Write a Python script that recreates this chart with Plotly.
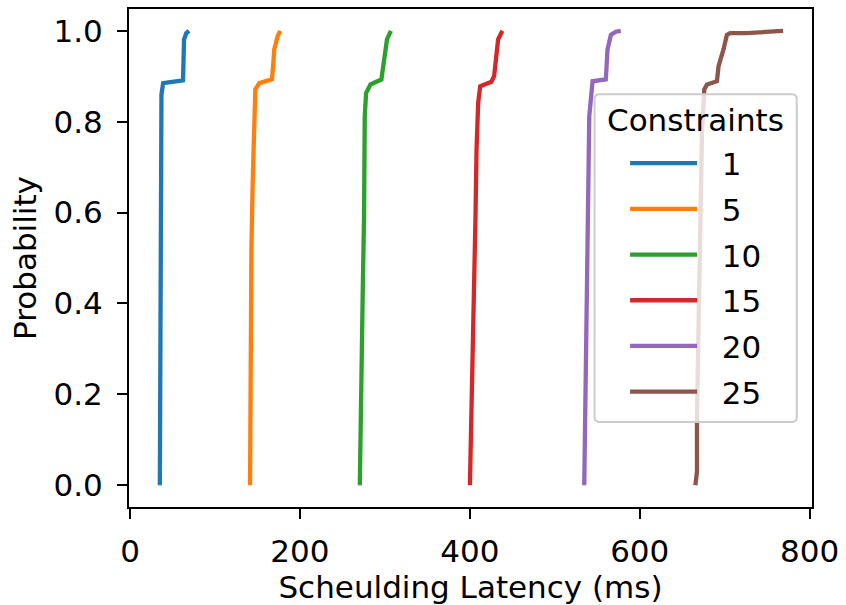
import plotly.graph_objects as go

# Constraint levels (legend labels)
constraints = ["1", "5", "10", "15", "20", "25"]
colors = ["#1f77b4", "#ff7f0e", "#2ca02c", "#d62728", "#9467bd", "#8c564b"]

# CDF curves: latency (ms) vs cumulative probability
lat_1 = [35.1, 35.6, 36.3, 37.0, 39.0, 62.4, 63.6, 66.3, 69.5]
prob_1 = [0.0, 0.40, 0.798, 0.86, 0.885, 0.891, 0.981, 0.995, 1.0]

lat_5 = [141.3, 142.1, 142.9, 144.4, 146.4, 147.5, 152.2, 167.1, 169.0, 169.8, 171.8, 173.7, 176.8]
prob_5 = [0.0, 0.300, 0.520, 0.666, 0.812, 0.871, 0.885, 0.893, 0.937, 0.959, 0.973, 0.988, 1.0]

lat_10 = [270.5, 272.4, 274.0, 275.5, 276.3, 277.9, 283.0, 295.9, 297.8, 300.6, 302.5, 307.1]
prob_10 = [0.0, 0.337, 0.432, 0.593, 0.812, 0.863, 0.882, 0.893, 0.922, 0.951, 0.981, 1.0]

lat_15 = [400.1, 402.0, 405.2, 406.7, 407.9, 409.8, 412.2, 425.4, 428.6, 431.3, 433.3, 438.3]
prob_15 = [0.0, 0.154, 0.373, 0.593, 0.739, 0.841, 0.878, 0.888, 0.900, 0.944, 0.981, 1.0]

lat_20 = [534.7, 536.6, 538.6, 540.6, 544.5, 560.1, 562.1, 566.0, 571.8, 577.7]
prob_20 = [0.0, 0.300, 0.593, 0.812, 0.889, 0.893, 0.959, 0.991, 0.998, 1.0]

lat_25 = [665.5, 667.4, 667.4, 669.4, 671.3, 673.3, 676.0, 679.2, 690.9, 692.8, 698.6, 702.6, 706.4, 726.0, 753.3, 768.8]
prob_25 = [0.0, 0.030, 0.154, 0.373, 0.593, 0.776, 0.871, 0.882, 0.889, 0.922, 0.959, 0.991, 0.995, 0.995, 0.998, 1.0]

series_x = [lat_1, lat_5, lat_10, lat_15, lat_20, lat_25]
series_y = [prob_1, prob_5, prob_10, prob_15, prob_20, prob_25]

x_ticks = [0, 200, 400, 600, 800]
y_ticks = [0.0, 0.2, 0.4, 0.6, 0.8, 1.0]

legend_title = "Constraints"
x_title = "Scheulding Latency (ms)"
y_title = "Probability"

FONT = "DejaVu Sans"
FS = 31
W, H = 846, 605
ML, MR, MT, MB = 129, 30, 7, 98
PW, PH = W - ML - MR, H - MT - MB


def px(xpix):
    return (xpix - ML) / PW


def py(ypix):
    return (H - MB - ypix) / PH


fig = go.Figure()
for name, xs, ys, c in zip(constraints, series_x, series_y, colors):
    fig.add_trace(go.Scatter(
        x=xs, y=ys, mode="lines", name="\u00a0\u00a0" + name, legendgroup=name,
        line=dict(color=c, width=4.3),
    ))

axis_common = dict(
    showline=True, linecolor="black", linewidth=2, mirror=True,
    ticks="outside", ticklen=10, tickwidth=2, tickcolor="black",
    showgrid=False, zeroline=False,
    tickfont=dict(family=FONT, size=FS, color="black"),
)

# legend frame (rounded box, semi-transparent like matplotlib's legend)
bx0, bx1, by0, by1, r = 597.3, 800.7, 92.7, 421.7, 5
path = (
    f"M {px(bx0 + r)},{py(by0)} L {px(bx1 - r)},{py(by0)} "
    f"Q {px(bx1)},{py(by0)} {px(bx1)},{py(by0 + r)} "
    f"L {px(bx1)},{py(by1 - r)} Q {px(bx1)},{py(by1)} {px(bx1 - r)},{py(by1)} "
    f"L {px(bx0 + r)},{py(by1)} Q {px(bx0)},{py(by1)} {px(bx0)},{py(by1 - r)} "
    f"L {px(bx0)},{py(by0 + r)} Q {px(bx0)},{py(by0)} {px(bx0 + r)},{py(by0)} Z"
)
fig.add_shape(type="path", path=path, xref="paper", yref="paper", layer="above",
              fillcolor="rgba(255,255,255,0.8)", line=dict(color="#cccccc", width=2))
fig.add_annotation(text=legend_title, xref="paper", yref="paper",
                   x=px((bx0 + bx1) / 2), y=py(118), xanchor="center", yanchor="middle",
                   showarrow=False, font=dict(family=FONT, size=FS, color="black"))

fig.update_layout(
    width=W, height=H,
    margin=dict(l=ML, r=MR, t=MT, b=MB),
    paper_bgcolor="white", plot_bgcolor="white",
    font=dict(family=FONT, size=FS, color="black"),
    xaxis=dict(range=[-1.2, 802.8], tickvals=x_ticks,
               title=dict(text=x_title, font=dict(family=FONT, size=FS), standoff=6),
               ticklabelstandoff=6, **axis_common),
    yaxis=dict(range=[-0.048, 1.048], tickvals=y_ticks, tickformat=".1f",
               title=dict(text=y_title, font=dict(family=FONT, size=FS), standoff=8),
               ticklabelstandoff=8, **axis_common),
    legend=dict(
        x=px(628), xanchor="left", y=py(135), yanchor="top",
        bgcolor="rgba(0,0,0,0)", borderwidth=0,
        font=dict(family=FONT, size=FS, color="black"),
        tracegroupgap=2.4, itemwidth=67,
    ),
    showlegend=True,
)

fig.write_html("out.html", config={"displayModeBar": False},
               post_script="document.body.style.margin='0px';")
